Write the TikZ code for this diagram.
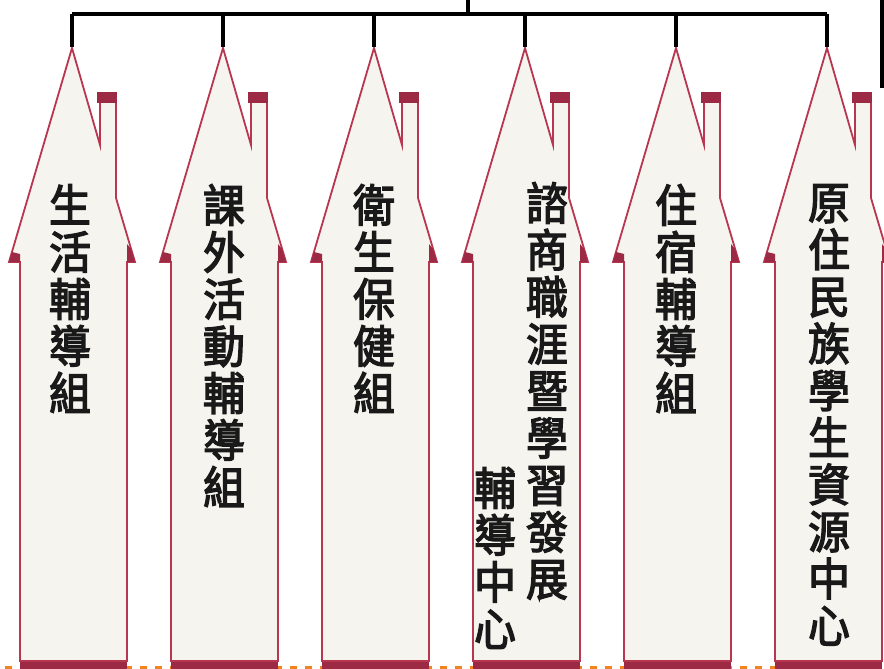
\documentclass[tikz,border=0pt]{standalone}
\usepackage{fontspec}
\newfontfamily\cjk{Noto Sans CJK TC}[FakeBold=3,FakeStretch=0.93]
\definecolor{houseline}{HTML}{B83650}
\definecolor{housefill}{HTML}{F5F4EE}
\definecolor{housedark}{HTML}{9C2A44}
\definecolor{dashorange}{HTML}{F0841E}
\tikzset{
  conn/.style={line width=4.5pt, black},
  housebody/.style={draw=houseline, fill=housefill, line width=1.8pt, line join=miter},
  housered/.style={fill=housedark, draw=none},
  label/.style={font=\cjk\fontsize{45}{47}\selectfont, align=center, inner sep=0pt, anchor=north, text=black!90}
}
\newcommand\myhouse[2]{%
  \begin{scope}[xshift=#2pt]
    \coordinate (#1) at (0,47);
    \fill[housedark] (-52,660) rectangle (55,669);
    \path[housebody] (0,48) -- (28,145) -- (28,93) -- (44,93) -- (44,198) -- (63,262) -- (55,262)
      -- (55,661) -- (-52,661) -- (-52,262) -- (-63,262) -- cycle;
    \fill[housered] (25,92) rectangle (45,103);
    \fill[housered] (-63,262) -- (-52,262) -- (-52,254) -- (-60,252) -- cycle;
    \fill[housered] (63,262) -- (55,262) -- (55,244) -- (59,249) -- cycle;
  \end{scope}}
\begin{document}
\begin{tikzpicture}[x=1pt,y=-1pt]
  \useasboundingbox (0,0) rectangle (884,669);
  \fill[white] (0,0) rectangle (884,669);
  \draw[dashorange, line width=3pt, dash pattern=on 7pt off 8pt] (5,667) -- (884,667);
  \myhouse{h1}{72}
  \myhouse{h2}{223}
  \myhouse{h3}{374}
  \myhouse{h4}{525}
  \myhouse{h5}{676}
  \myhouse{h6}{827}
  \coordinate (root) at (468,0);
  \coordinate (bus) at (0,14);
  \coordinate (edgetop) at (882,0);
  \coordinate (edgeend) at (882,88);
  \draw[conn] (h1 |- bus) -- (h6 |- bus);
  \draw[conn] (root) -- (root |- bus);
  \foreach \i in {1,...,6} { \draw[conn] (h\i) -- (h\i |- bus); }
  \draw[conn] (edgetop) -- (edgeend);
  \node[label] (t1) at (70,184) {生\\活\\輔\\導\\組};
  \node[label] (t2) at (224,184) {課\\外\\活\\動\\輔\\導\\組};
  \node[label] (t3) at (374,184) {衛\\生\\保\\健\\組};
  \node[label] (t4a) at (547,182) {諮\\商\\職\\涯\\暨\\學\\習\\發\\展};
  \node[label] (t4b) at (495,467) {輔\\導\\中\\心};
  \node[label] (t5) at (676,184) {住\\宿\\輔\\導\\組};
  \node[label] (t6) at (829,184) {原\\住\\民\\族\\學\\生\\資\\源\\中\\心};
\end{tikzpicture}
\end{document}
